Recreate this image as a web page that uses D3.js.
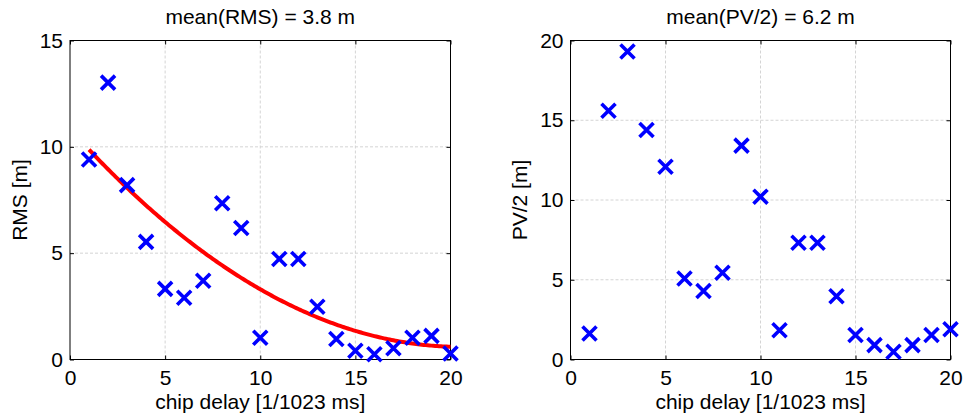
<!DOCTYPE html>
<html>
<head>
<meta charset="utf-8">
<script src="https://cdn.jsdelivr.net/npm/d3@7"></script>
<style>
  body { margin: 0; background: #fff; }
  text { font-family: "Liberation Sans", Arial, sans-serif; fill: #000; }
</style>
</head>
<body>
<svg id="chart" width="966" height="418"></svg>
<script>
// Chip delay (in units of 1/1023 ms) for each measurement
const chipDelay = [1, 2, 3, 4, 5, 6, 7, 8, 9, 10, 11, 12, 13, 14, 15, 16, 17, 18, 19, 20];
// RMS error per delay [m]
const rmsValues = [9.40, 13.02, 8.20, 5.53, 3.32, 2.90, 3.70, 7.35, 6.18, 1.02,
                   4.73, 4.73, 2.48, 0.96, 0.41, 0.25, 0.53, 1.02, 1.11, 0.28];
// Half peak-to-valley error per delay [m]
const pvHalfValues = [1.63, 15.59, 19.31, 14.39, 12.09, 5.08, 4.29, 5.44, 13.41, 10.21,
                      1.84, 7.32, 7.32, 3.97, 1.53, 0.90, 0.48, 0.90, 1.53, 1.90];
const xTicks = [0, 5, 10, 15, 20];
const rmsTicks = [0, 5, 10, 15];
const pvTicks = [0, 5, 10, 15, 20];
const rmsTitle = "mean(RMS) = 3.8 m";
const pvTitle = "mean(PV/2) = 6.2 m";
const xLabel = "chip delay [1/1023 ms]";
const rmsLabel = "RMS [m]";
const pvLabel = "PV/2 [m]";

// Least-squares polynomial fit of degree 2: returns [c0, c1, c2]
function quadFit(xs, ys) {
  const S = [0, 0, 0, 0, 0], T = [0, 0, 0];
  xs.forEach((x, i) => {
    for (let k = 0; k < 5; k++) S[k] += Math.pow(x, k);
    for (let k = 0; k < 3; k++) T[k] += ys[i] * Math.pow(x, k);
  });
  const M = [[S[0], S[1], S[2], T[0]], [S[1], S[2], S[3], T[1]], [S[2], S[3], S[4], T[2]]];
  for (let c = 0; c < 3; c++) {
    for (let r = c + 1; r < 3; r++) {
      const f = M[r][c] / M[c][c];
      for (let k = c; k < 4; k++) M[r][k] -= f * M[c][k];
    }
  }
  const sol = [0, 0, 0];
  for (let r = 2; r >= 0; r--) {
    let s = M[r][3];
    for (let k = r + 1; k < 3; k++) s -= M[r][k] * sol[k];
    sol[r] = s / M[r][r];
  }
  return sol;
}

const svg = d3.select("#chart");
const FONT = 21;
const plotTop = 40.5, plotBottom = 359.5;

function panel(opts) {
  const g = svg.append("g");
  const x = d3.scaleLinear().domain([0, 20]).range([opts.left, opts.right]);
  const y = d3.scaleLinear().domain([0, opts.yMax]).range([plotBottom, plotTop]);

  // dashed grid
  g.append("g").selectAll("line").data(xTicks.slice(1, -1)).join("line")
    .attr("x1", d => x(d)).attr("x2", d => x(d)).attr("y1", plotTop).attr("y2", plotBottom)
    .attr("stroke", "#d4d4d4").attr("stroke-width", 1).attr("stroke-dasharray", "3,2");
  g.append("g").selectAll("line").data(opts.yTicks.slice(1, -1)).join("line")
    .attr("x1", opts.left).attr("x2", opts.right).attr("y1", d => y(d)).attr("y2", d => y(d))
    .attr("stroke", "#d4d4d4").attr("stroke-width", 1).attr("stroke-dasharray", "3,2");

  // axes with inward ticks
  const style = sel => {
    sel.select(".domain").remove();
    sel.selectAll("line").attr("stroke", "#000");
    sel.selectAll("text").attr("font-size", FONT).attr("fill", "#000")
      .style("font-family", '"Liberation Sans", Arial, sans-serif');
  };
  g.append("g").attr("transform", `translate(0,${plotBottom})`)
    .call(d3.axisBottom(x).tickValues(xTicks).tickSizeInner(-4).tickSizeOuter(0).tickPadding(11))
    .call(style);
  g.append("g").attr("transform", `translate(0,${plotTop})`)
    .call(d3.axisTop(x).tickValues(xTicks).tickSizeInner(-4).tickSizeOuter(0).tickFormat(""))
    .call(style);
  g.append("g").attr("transform", `translate(${opts.left},0)`)
    .call(d3.axisLeft(y).tickValues(opts.yTicks).tickSizeInner(-4).tickSizeOuter(0).tickPadding(7))
    .call(style);
  g.append("g").attr("transform", `translate(${opts.right},0)`)
    .call(d3.axisRight(y).tickValues(opts.yTicks).tickSizeInner(-4).tickSizeOuter(0).tickFormat(""))
    .call(style);

  // frame
  g.append("rect").attr("x", opts.left).attr("y", plotTop)
    .attr("width", opts.right - opts.left).attr("height", plotBottom - plotTop)
    .attr("fill", "none").attr("stroke", "#000").attr("stroke-width", 1);

  // fitted curve
  if (opts.fit) {
    const c = quadFit(chipDelay, opts.values);
    const xs = d3.range(chipDelay[0], chipDelay[chipDelay.length - 1] + 0.001, 0.1);
    g.append("path")
      .attr("d", d3.line().x(d => x(d)).y(d => y(c[0] + c[1] * d + c[2] * d * d))(xs))
      .attr("fill", "none").attr("stroke", "#ff0000").attr("stroke-width", 4);
  }

  // x markers
  g.append("g").selectAll("path").data(opts.values).join("path")
    .attr("transform", (d, i) => `translate(${x(chipDelay[i])},${y(d)})`)
    .attr("d", "M-7,-7L7,7M-7,7L7,-7")
    .attr("stroke", "#0000ff").attr("stroke-width", 3.6).attr("fill", "none");

  // title and labels
  g.append("text").attr("x", (opts.left + opts.right) / 2).attr("y", 24)
    .attr("text-anchor", "middle").attr("font-size", FONT).text(opts.title);
  g.append("text").attr("x", (opts.left + opts.right) / 2).attr("y", 409)
    .attr("text-anchor", "middle").attr("font-size", FONT).text(xLabel);
  g.append("text")
    .attr("transform", `translate(${opts.ylabelX},${(plotTop + plotBottom) / 2}) rotate(-90)`)
    .attr("text-anchor", "middle").attr("font-size", FONT).text(opts.ylabel);
}

panel({ left: 70, right: 450.5, yMax: 15, yTicks: rmsTicks, values: rmsValues,
        title: rmsTitle, ylabel: rmsLabel, ylabelX: 27, fit: true });
panel({ left: 570.5, right: 950.5, yMax: 20, yTicks: pvTicks, values: pvHalfValues,
        title: pvTitle, ylabel: pvLabel, ylabelX: 527, fit: false });
</script>
</body>
</html>
